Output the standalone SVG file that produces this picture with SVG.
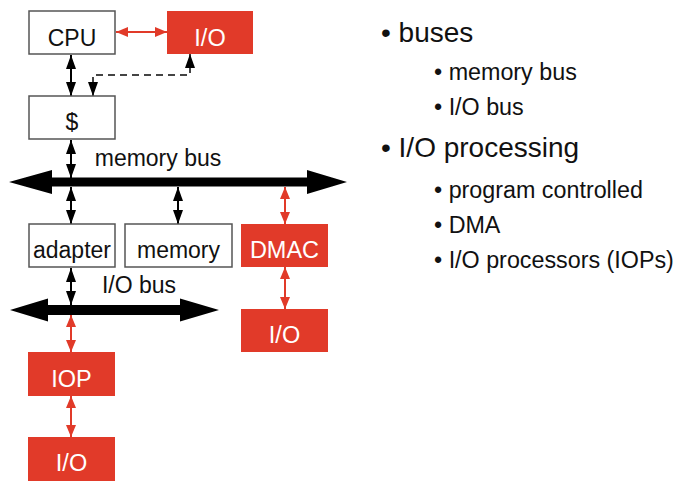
<svg xmlns="http://www.w3.org/2000/svg" width="679" height="484" viewBox="0 0 679 484">
<style>
  .box { fill: #ffffff; stroke: #555555; stroke-width: 1.5; }
  .rbox { fill: #e13a29; stroke: none; }
  .lbl { font-family: "Liberation Sans", Arial, sans-serif; font-size: 23px; fill: #111111; text-anchor: middle; }
  .wlbl { font-family: "Liberation Sans", Arial, sans-serif; font-size: 23.5px; fill: #ffffff; text-anchor: middle; }
  .bk { stroke: #000000; stroke-width: 2; fill: none; marker-start: url(#ak); marker-end: url(#ak); }
  .rd { stroke: #e13a29; stroke-width: 2; fill: none; marker-start: url(#ar); marker-end: url(#ar); }
  .dash { stroke: #444444; stroke-width: 2; fill: none; stroke-dasharray: 7 5; marker-start: url(#ak); marker-end: url(#ak); }
  .bus { fill: #000000; }
  .l1 { font-family: "Liberation Sans", Arial, sans-serif; font-size: 28px; fill: #111111; }
  .l2 { font-family: "Liberation Sans", Arial, sans-serif; font-size: 23.3px; fill: #111111; }
</style>
<defs>
  <marker id="ak" viewBox="0 0 14 10" refX="14" refY="5" markerWidth="14" markerHeight="10" markerUnits="userSpaceOnUse" orient="auto-start-reverse">
    <path d="M0,0 L14,5 L0,10 z" fill="#000000"/>
  </marker>
  <marker id="ar" viewBox="0 0 12 10" refX="12" refY="5" markerWidth="12" markerHeight="10" markerUnits="userSpaceOnUse" orient="auto-start-reverse">
    <path d="M0,0 L12,5 L0,10 z" fill="#e13a29"/>
  </marker>
</defs>

<g id="connectors">
  <line class="rd" x1="116" y1="32" x2="167" y2="32"/>
  <line class="bk" x1="71" y1="55" x2="71" y2="96"/>
  <path class="dash" d="M93,96 L93,75 L190,75 L190,54"/>
  <line class="bk" x1="71" y1="140" x2="71" y2="178"/>
  <line class="bk" x1="71" y1="187" x2="71" y2="224"/>
  <line class="bk" x1="178" y1="187" x2="178" y2="224"/>
  <line class="rd" x1="285" y1="187" x2="285" y2="224"/>
  <line class="rd" x1="285" y1="267" x2="285" y2="309"/>
  <line class="bk" x1="71" y1="268" x2="71" y2="305"/>
  <line class="rd" x1="71" y1="315" x2="71" y2="352"/>
  <line class="rd" x1="71" y1="396" x2="71" y2="437"/>
</g>

<g id="memory-bus">
  <polygon class="bus" points="9,182 52,170 52,177.5 307,177.5 307,170 347,182 307,194 307,186.5 52,186.5 52,194"/>
  <text class="lbl" x="158" y="166">memory bus</text>
</g>
<g id="io-bus">
  <polygon class="bus" points="10,310 48,298.5 48,305 180,305 180,298.5 219,310 180,321.5 180,315 48,315 48,321.5"/>
  <text class="lbl" x="139" y="293">I/O bus</text>
</g>

<g id="cpu">
  <rect class="box" x="29" y="11" width="86" height="43"/>
  <text class="lbl" x="72" y="46">CPU</text>
</g>
<g id="io-top">
  <rect class="rbox" x="167" y="11" width="86" height="43"/>
  <text class="wlbl" x="210" y="46">I/O</text>
</g>
<g id="cache">
  <rect class="box" x="29" y="96" width="86" height="43"/>
  <text class="lbl" x="72" y="130">$</text>
</g>
<g id="adapter">
  <rect class="box" x="29" y="224" width="86" height="43"/>
  <text class="lbl" x="72" y="258">adapter</text>
</g>
<g id="memory">
  <rect class="box" x="125" y="224" width="107" height="43"/>
  <text class="lbl" x="178.5" y="258">memory</text>
</g>
<g id="dmac">
  <rect class="rbox" x="241" y="224" width="87" height="43"/>
  <text class="wlbl" x="284.5" y="258">DMAC</text>
</g>
<g id="io-right">
  <rect class="rbox" x="241" y="309" width="87" height="43"/>
  <text class="wlbl" x="284.5" y="343">I/O</text>
</g>
<g id="iop">
  <rect class="rbox" x="28" y="352" width="87" height="44"/>
  <text class="wlbl" x="71.5" y="387">IOP</text>
</g>
<g id="io-bottom">
  <rect class="rbox" x="28" y="437" width="87" height="44"/>
  <text class="wlbl" x="71.5" y="471">I/O</text>
</g>

<g id="bullets">
  <text class="l1" x="381" y="42">• buses</text>
  <text class="l2" x="434" y="80">• memory bus</text>
  <text class="l2" x="434" y="115">• I/O bus</text>
  <text class="l1" x="381" y="157">• I/O processing</text>
  <text class="l2" x="434" y="198">• program controlled</text>
  <text class="l2" x="434" y="233">• DMA</text>
  <text class="l2" x="434" y="268">• I/O processors (IOPs)</text>
</g>
</svg>
